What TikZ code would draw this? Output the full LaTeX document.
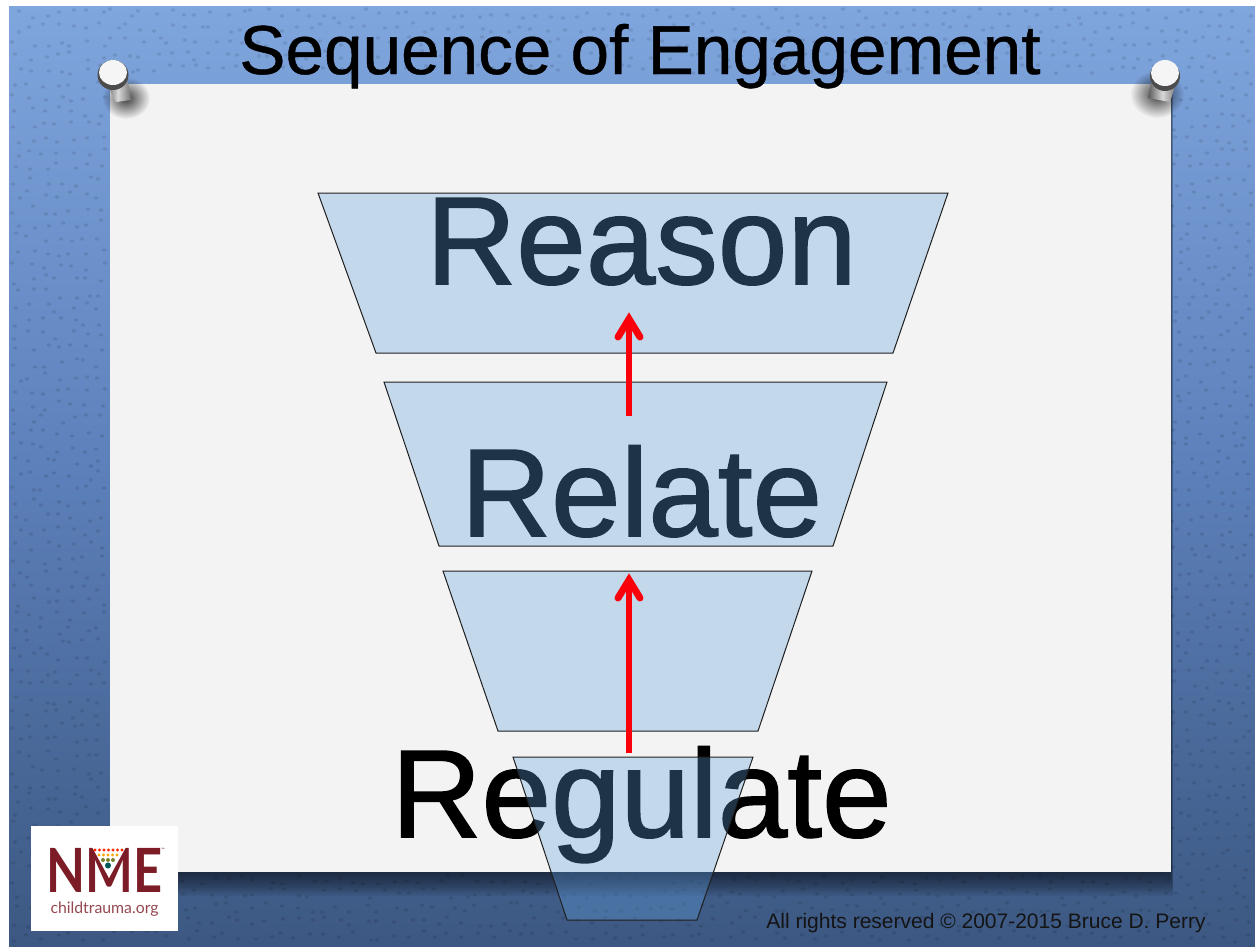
\documentclass[tikz,border=0pt]{standalone}
\usepackage{fontspec}
\usepackage{graphicx}
\setmainfont{Liberation Sans}
\newfontfamily\heavyfont[FakeBold=1.2]{Liberation Sans}
\newfontfamily\midfont[FakeBold=0.6]{Liberation Sans}
\newfontfamily\logofont{Lato}
\usetikzlibrary{calc,fadings}
\definecolor{bgtop}{RGB}{128,166,222}
\definecolor{bgmid}{RGB}{92,128,186}
\definecolor{bgbot}{RGB}{60,88,130}
\definecolor{paper}{RGB}{243,243,243}
\definecolor{tier}{RGB}{97,160,222}
\definecolor{nme}{RGB}{124,28,38}
\definecolor{arrowred}{RGB}{250,0,10}
\tikzfading[name=softdisc,inner color=transparent!25,outer color=transparent!100]
\tikzset{
  x=1pt,y=-1pt,
  tier/.style={fill=tier,fill opacity=.32,draw=black!88,draw opacity=1,line width=1pt,line join=miter},
  word/.style={inner sep=0pt,font=\heavyfont\fontsize{125}{125}\selectfont,text=black,anchor=base},
  redline/.style={draw=arrowred,line width=6.8pt},
  redhead/.style={draw=arrowred,line width=7pt,line cap=round,line join=miter},
  pinstem/.style={left color=black!65,right color=black!55,middle color=white!85!black},
}
\newcommand{\stipple}[4]{% x0, y0, columns, rows
  \foreach \ix in {0,...,#3}{
    \foreach \iy in {0,...,#4}{
      \pgfmathsetmacro{\px}{#1+\ix*14+random(0,9)}
      \pgfmathsetmacro{\py}{#2+\iy*14+random(0,9)}
      \fill[black,opacity=.10] (\px,\py) ellipse (2.2 and 1.7);
    }
  }
}
\begin{document}
\begin{tikzpicture}
\useasboundingbox (0,0) rectangle (1255,946);
\fill[white] (0,0) rectangle (1255,946);
% background
\shade[top color=bgtop,bottom color=bgmid] (9,6) rectangle (1255,470);
\shade[top color=bgmid,bottom color=bgbot] (9,470) rectangle (1255,946);
% texture, only where the paper leaves the background open
\pgfmathsetseed{7}
\stipple{12}{9}{6}{66}
\stipple{1172}{9}{5}{66}
\stipple{110}{9}{75}{4}
\stipple{110}{875}{75}{4}
% paper shadow
\foreach \k in {2,4,...,24}{
  \fill[black,opacity=.055] (112,84) rectangle (1171+\k*.1,872+\k);
}
\fill[paper] (110,84) rectangle (1171,872);
% title
\node[inner sep=0pt,anchor=base,font=\midfont\fontsize{69.3}{70}\selectfont] (title) at (640,74) {Sequence of Engagement};
% pins
\fill[black,path fading=softdisc] (126,98) ellipse (24 and 21);
\fill[black,path fading=softdisc] (1157,94) ellipse (27 and 24);
\shade[pinstem] (105,80) -- (128,82) -- (131,100) -- (116,102) -- cycle;
\fill[black!70] (113,75) ellipse (15.5 and 15);
\fill[white!96!black] (113,72.5) ellipse (14 and 12.5);
\shade[pinstem] (1152,78) -- (1177,80) -- (1170,102) -- (1148,98) -- cycle;
\fill[black!70] (1165,76) ellipse (15 and 15);
\fill[white!96!black] (1165,73) ellipse (14 and 13);
% words beneath the tiers
\node[word] (reason) at (641.5,284) {Reason};
\node[word] (relate) at (641.5,536) {Relate};
\node[word] (regulate) at (641.5,837) {Regulate};
% tiers
\draw[tier] (318,193) -- (948,193) -- (893,353) -- (376,353) -- cycle;
\draw[tier] (384,382) -- (887,382) -- (833,546) -- (439,546) -- cycle;
\draw[tier] (443,571) -- (812,571) -- (758,731) -- (498,731) -- cycle;
\draw[tier] (513,757) -- (753,757) -- (697,920) -- (567,920) -- cycle;
% arrows
\coordinate (a1s) at (629,416);
\coordinate (a1e) at (629,312);
\coordinate (a2s) at (629,753);
\coordinate (a2e) at (629,573);
\foreach \s/\e in {a1s/a1e,a2s/a2e}{
  \draw[redline] (\s) -- ($(\e)+(0,10)$);
  \draw[redhead] ($(\e)+(-11,25)$) -- ($(\e)+(0,7)$) -- ($(\e)+(11,25)$);
}
% logo
\fill[white] (31,826) rectangle (178,931);
\node[inner sep=0pt,anchor=base,text=nme,font=\logofont\bfseries\fontsize{61}{61}\selectfont] (nmetxt) at (104.5,892) {\scalebox{.83}[1]{NME}};
\fill[white] (92,847) -- (126,847) -- (109,878) -- cycle;
\foreach \x in {95,99.5,104,108.5,113,117.5,122}{\fill[red!70!orange] (\x,850) circle (1.7);}
\foreach \x in {99,103.5,108,112.5,117}{\fill[orange!70!yellow] (\x,855) circle (1.7);}
\foreach \x in {103,108,113}{\fill[olive!70!teal] (\x,860) circle (2);}
\fill[teal!70!black] (108,865.5) circle (3);
\node[inner sep=0pt,anchor=base,text=nme,font=\logofont\fontsize{4.5}{5}\selectfont] (tm) at (163,851) {™};
\node[inner sep=0pt,anchor=base,text=nme!80!white,font=\logofont\fontsize{15.8}{16}\selectfont] (site) at (104.5,913) {childtrauma.org};
% credit
\node[inner sep=0pt,anchor=base,text=black!92,font=\fontsize{21}{22}\selectfont] (credit) at (986,928) {All rights reserved © 2007-2015 Bruce D. Perry};
\end{tikzpicture}
\end{document}
